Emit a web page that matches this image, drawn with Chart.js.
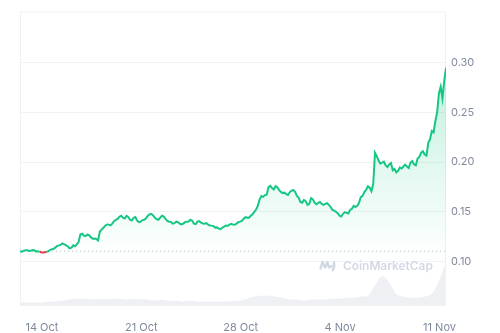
<!DOCTYPE html>
<html>
<head>
<meta charset="utf-8">
<script src="https://cdn.jsdelivr.net/npm/chart.js@4"></script>
<style>
  html, body { margin: 0; padding: 0; background: #fff; }
  #wrap { width: 500px; height: 333px; }
</style>
</head>
<body>
<div id="wrap"><canvas id="priceChart" width="500" height="333"></canvas></div>
<script>
// time axis is in days relative to 14 Oct 00:00
const START_DAY = -1.542;
const PRICE_STEP = 0.125;  // 3h between price samples
const VOLUME_STEP = 0.5;   // 12h between volume samples

const tickDays = [0, 7, 14, 21, 28];
const tickLabels = ["14 Oct", "21 Oct", "28 Oct", "4 Nov", "11 Nov"];
const priceTicks = [0.10, 0.15, 0.20, 0.25, 0.30];

const prices = [
  0.1101, 0.1098, 0.1106, 0.1112, 0.1111, 0.1104, 0.1106, 0.1113, 0.1111, 0.1100,
  0.1101, 0.1098, 0.1092, 0.1089, 0.1092, 0.1096, 0.1101, 0.1116, 0.1121, 0.1127,
  0.1141, 0.1156, 0.1161, 0.1168, 0.1181, 0.1172, 0.1161, 0.1150, 0.1131, 0.1138,
  0.1161, 0.1152, 0.1171, 0.1195, 0.1270, 0.1278, 0.1260, 0.1254, 0.1270, 0.1262,
  0.1241, 0.1228, 0.1231, 0.1226, 0.1211, 0.1300, 0.1320, 0.1338, 0.1360, 0.1372,
  0.1370, 0.1362, 0.1380, 0.1405, 0.1419, 0.1428, 0.1449, 0.1460, 0.1439, 0.1432,
  0.1459, 0.1448, 0.1419, 0.1412, 0.1439, 0.1446, 0.1410, 0.1395, 0.1400, 0.1416,
  0.1419, 0.1434, 0.1459, 0.1472, 0.1479, 0.1462, 0.1439, 0.1425, 0.1419, 0.1440,
  0.1459, 0.1451, 0.1429, 0.1408, 0.1400, 0.1398, 0.1380, 0.1385, 0.1400, 0.1396,
  0.1380, 0.1372, 0.1380, 0.1395, 0.1400, 0.1402, 0.1419, 0.1410, 0.1380, 0.1375,
  0.1400, 0.1405, 0.1390, 0.1381, 0.1380, 0.1386, 0.1370, 0.1362, 0.1360, 0.1355,
  0.1340, 0.1342, 0.1330, 0.1325, 0.1340, 0.1350, 0.1360, 0.1358, 0.1370, 0.1378,
  0.1370, 0.1368, 0.1380, 0.1395, 0.1400, 0.1408, 0.1429, 0.1445, 0.1439, 0.1440,
  0.1459, 0.1475, 0.1499, 0.1522, 0.1559, 0.1625, 0.1658, 0.1650, 0.1668, 0.1672,
  0.1748, 0.1760, 0.1738, 0.1725, 0.1757, 0.1746, 0.1718, 0.1700, 0.1688, 0.1692,
  0.1678, 0.1670, 0.1698, 0.1712, 0.1718, 0.1700, 0.1658, 0.1640, 0.1598, 0.1590,
  0.1618, 0.1605, 0.1569, 0.1580, 0.1638, 0.1625, 0.1589, 0.1576, 0.1589, 0.1598,
  0.1579, 0.1570, 0.1579, 0.1586, 0.1569, 0.1548, 0.1519, 0.1512, 0.1499, 0.1485,
  0.1459, 0.1452, 0.1479, 0.1496, 0.1489, 0.1482, 0.1519, 0.1530, 0.1559, 0.1548,
  0.1559, 0.1590, 0.1648, 0.1660, 0.1698, 0.1720, 0.1757, 0.1742, 0.1708, 0.1780,
  0.2095, 0.2060, 0.2016, 0.1985, 0.1996, 0.2005, 0.1966, 0.1950, 0.1976, 0.1990,
  0.1917, 0.1930, 0.1897, 0.1912, 0.1946, 0.1935, 0.1956, 0.1975, 0.1956, 0.1940,
  0.1996, 0.2010, 0.1976, 0.1968, 0.2036, 0.2052, 0.2095, 0.2110, 0.2076, 0.2065,
  0.2195, 0.2230, 0.2314, 0.2300, 0.2414, 0.2500, 0.2692, 0.2760, 0.2642, 0.2820,
  0.2950
];

// volume, millions (rough, read off the grey area)
const volumes = [
  7, 7, 7, 7, 10, 10, 13, 17, 20, 20,
  17, 20, 17, 20, 20, 17, 20, 17, 17, 13,
  17, 13, 13, 10, 13, 10, 10, 10, 10, 10,
  13, 13, 20, 27, 30, 30, 27, 23, 17, 17,
  13, 17, 17, 17, 20, 20, 23, 23, 27, 30,
  64, 97, 74, 34, 27, 23, 23, 27, 37, 77,
  144
];

const openPrice = prices[0];
const endDay = START_DAY + (prices.length - 1) * PRICE_STEP;

const pricePoints = prices.map((p, i) => ({ x: START_DAY + i * PRICE_STEP, y: p }));
const volumePoints = volumes.map((v, i) => ({ x: START_DAY + i * VOLUME_STEP, y: v }));
const baselinePoints = [{ x: START_DAY, y: openPrice }, { x: endDay, y: openPrice }];

const GREEN = "#16c784";
const RED = "#ea3943";
const GRID = "#eff2f5";
const TICK = "#808a9d";

function greenFill(context) {
  const { chart } = context;
  const { ctx, chartArea, scales } = chart;
  if (!chartArea) return "rgba(22,199,132,0.1)";
  const bottom = scales.y.getPixelForValue(0.10);
  const g = ctx.createLinearGradient(0, chartArea.top + 40, 0, bottom);
  g.addColorStop(0, "rgba(22,199,132,0.28)");
  g.addColorStop(1, "rgba(22,199,132,0)");
  return g;
}

// frame around plot + watermark
const frameAndMark = {
  id: "frameAndMark",
  beforeDatasetsDraw(chart) {
    const { ctx, chartArea: a } = chart;
    ctx.save();
    ctx.strokeStyle = GRID;
    ctx.lineWidth = 1;
    ctx.strokeRect(a.left + 0.5, a.top + 0.5, a.right - a.left - 1, a.bottom - a.top);

    // CoinMarketCap watermark
    const cx = 325.5, cy = 265, r = 8.8;
    ctx.strokeStyle = "#d3d9e4";
    ctx.lineWidth = 2.4;
    ctx.lineJoin = "round";
    ctx.lineCap = "round";
    ctx.beginPath();
    ctx.arc(cx, cy, r, 0.2 * Math.PI, 1.9 * Math.PI, true);
    ctx.stroke();
    ctx.beginPath();
    ctx.moveTo(cx - 5, cy + 3.5);
    ctx.lineTo(cx - 3, cy - 3);
    ctx.lineTo(cx - 0.5, cy + 2.5);
    ctx.lineTo(cx + 2, cy - 3);
    ctx.lineTo(cx + 3.5, cy + 2.5);
    ctx.lineTo(cx + 6.5, cy + 1);
    ctx.stroke();

    ctx.fillStyle = "#d3d9e4";
    ctx.font = "600 14px Inter, 'Noto Sans', sans-serif";
    ctx.textBaseline = "middle";
    ctx.textAlign = "left";
    const txt = "CoinMarketCap";
    const w = ctx.measureText(txt).width;
    const size = 14 * 90 / w;
    ctx.font = "600 " + size.toFixed(1) + "px Inter, 'Noto Sans', sans-serif";
    ctx.fillText(txt, 343, 266);
    ctx.restore();
  }
};

new Chart(document.getElementById("priceChart"), {
  type: "line",
  data: {
    datasets: [
      {
        label: "Price",
        data: pricePoints,
        yAxisID: "y",
        borderColor: GREEN,
        borderWidth: 2,
        pointRadius: 0,
        tension: 0,
        fill: "start",
        backgroundColor: greenFill,
        segment: {
          borderColor: (c) => (c.p0.parsed.y < openPrice && c.p1.parsed.y < openPrice ? RED : GREEN),
        },
        order: 0,
      },
      {
        label: "Open",
        data: baselinePoints,
        yAxisID: "y",
        borderColor: "#b8bfcc",
        borderWidth: 1,
        borderDash: [1, 3],
        pointRadius: 0,
        fill: false,
        order: 1,
      },
      {
        label: "Volume",
        data: volumePoints,
        yAxisID: "yv",
        borderColor: "#eef0f4",
        borderWidth: 1,
        backgroundColor: "#eef0f4",
        pointRadius: 0,
        tension: 0.3,
        fill: "origin",
        order: 2,
      },
    ],
  },
  options: {
    responsive: false,
    animation: false,
    layout: { padding: { left: 20, top: 7, right: 0, bottom: 0 } },
    plugins: { legend: { display: false }, tooltip: { enabled: false } },
    scales: {
      x: {
        type: "linear",
        min: START_DAY,
        max: endDay,
        grid: { display: false },
        border: { display: false },
        afterBuildTicks: (s) => { s.ticks = tickDays.map((v) => ({ value: v })); },
        afterFit: (s) => { s.height = 28; },
        ticks: {
          color: TICK,
          font: { family: "Inter", size: 11 },
          maxRotation: 0,
          padding: 8,
          callback: (v) => tickLabels[tickDays.indexOf(v)],
        },
      },
      y: {
        position: "right",
        min: 0.056,
        max: 0.3517,
        grid: { color: GRID, drawTicks: false },
        border: { display: false },
        afterBuildTicks: (s) => { s.ticks = priceTicks.map((v) => ({ value: v })); },
        afterFit: (s) => { s.width = 54; },
        ticks: {
          color: TICK,
          font: { family: "Inter", size: 11 },
          padding: 5,
          callback: (v) => v.toFixed(2),
        },
      },
      yv: {
        display: false,
        min: 0,
        max: 1000,
      },
    },
  },
  plugins: [frameAndMark],
});
</script>
</body>
</html>
